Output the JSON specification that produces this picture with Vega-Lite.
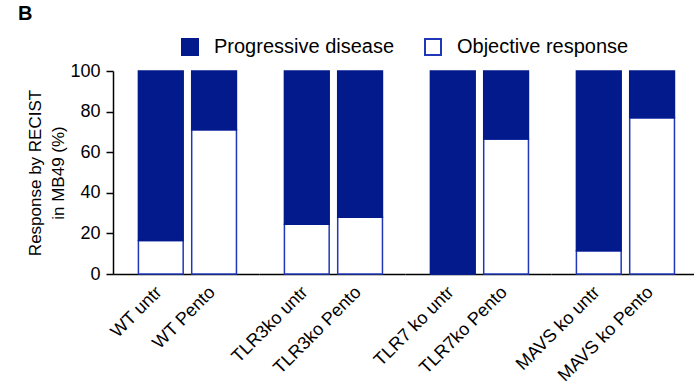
{
  "$schema": "https://vega.github.io/schema/vega-lite/v6.json",
  "background": "white",
  "padding": {"left": 17, "right": 0, "top": 4, "bottom": 0},
  "bounds": "flush",
  "title": {"text": "B", "anchor": "start", "frame": "bounds", "fontSize": 20, "fontWeight": "bold", "color": "black", "font": "Liberation Sans", "dx": -9, "offset": 13},
  "data": {"values": [
    {"group": "WT", "label": "WT untr", "response": "Objective response", "value": 16.5},
    {"group": "WT", "label": "WT untr", "response": "Progressive disease", "value": 83.5},
    {"group": "WT", "label": "WT Pento", "response": "Objective response", "value": 71},
    {"group": "WT", "label": "WT Pento", "response": "Progressive disease", "value": 29},
    {"group": "TLR3", "label": "TLR3ko untr", "response": "Objective response", "value": 24.5},
    {"group": "TLR3", "label": "TLR3ko untr", "response": "Progressive disease", "value": 75.5},
    {"group": "TLR3", "label": "TLR3ko Pento", "response": "Objective response", "value": 28},
    {"group": "TLR3", "label": "TLR3ko Pento", "response": "Progressive disease", "value": 72},
    {"group": "TLR7", "label": "TLR7 ko untr", "response": "Objective response", "value": 0},
    {"group": "TLR7", "label": "TLR7 ko untr", "response": "Progressive disease", "value": 100},
    {"group": "TLR7", "label": "TLR7ko Pento", "response": "Objective response", "value": 66.5},
    {"group": "TLR7", "label": "TLR7ko Pento", "response": "Progressive disease", "value": 33.5},
    {"group": "MAVS", "label": "MAVS ko untr", "response": "Objective response", "value": 11.5},
    {"group": "MAVS", "label": "MAVS ko untr", "response": "Progressive disease", "value": 88.5},
    {"group": "MAVS", "label": "MAVS ko Pento", "response": "Objective response", "value": 77},
    {"group": "MAVS", "label": "MAVS ko Pento", "response": "Progressive disease", "value": 23}
  ]},
  "spacing": 0,
  "resolve": {"scale": {"fill": "shared", "stroke": "shared", "y": "shared"}, "legend": {"fill": "shared", "stroke": "shared"}},
  "hconcat": [
    {
      "width": 146, "height": 203,
      "transform": [{"filter": "datum.group === 'WT'"}],
      "mark": {"type": "bar", "strokeWidth": 1.5},
      "encoding": {
        "x": {"field": "label", "type": "nominal", "sort": null, "scale": {"paddingInner": 0.16, "paddingOuter": 0.45, "align": 0.53}, "axis": {"title": null, "labelAngle": -45, "ticks": false, "labelFontSize": 18, "domainWidth": 1.5, "labelPadding": 9, "labelOffset": -8}},
        "y": {"field": "value", "type": "quantitative", "stack": "zero", "scale": {"domain": [0, 100]}, "axis": {"title": ["Response by RECIST", "in MB49 (%)"], "titleFontSize": 17, "titleFontWeight": "normal", "titleLineHeight": 23, "labelFontSize": 18, "values": [0, 20, 40, 60, 80, 100], "tickSize": 7, "tickWidth": 1.5, "domainWidth": 1.5, "labelPadding": 6, "titlePadding": 2}},
        "fill": {"field": "response", "type": "nominal", "scale": {"domain": ["Progressive disease", "Objective response"], "range": ["#021a8c", "#ffffff"]}, "legend": {"title": null}},
        "stroke": {"field": "response", "type": "nominal", "scale": {"domain": ["Progressive disease", "Objective response"], "range": ["#021a8c", "#2038b8"]}, "legend": {"title": null}},
        "order": {"field": "response", "sort": "ascending"}
      }
    },
    {
      "width": 146, "height": 203,
      "transform": [{"filter": "datum.group === 'TLR3'"}],
      "mark": {"type": "bar", "strokeWidth": 1.5},
      "encoding": {
        "x": {"field": "label", "type": "nominal", "sort": null, "scale": {"paddingInner": 0.16, "paddingOuter": 0.45, "align": 0.53}, "axis": {"title": null, "labelAngle": -45, "ticks": false, "labelFontSize": 18, "domainWidth": 1.5, "labelPadding": 9, "labelOffset": -8}},
        "y": {"field": "value", "type": "quantitative", "stack": "zero", "scale": {"domain": [0, 100]}, "axis": null},
        "fill": {"field": "response", "type": "nominal", "scale": {"domain": ["Progressive disease", "Objective response"], "range": ["#021a8c", "#ffffff"]}, "legend": {"title": null}},
        "stroke": {"field": "response", "type": "nominal", "scale": {"domain": ["Progressive disease", "Objective response"], "range": ["#021a8c", "#2038b8"]}, "legend": {"title": null}},
        "order": {"field": "response", "sort": "ascending"}
      }
    },
    {
      "width": 146, "height": 203,
      "transform": [{"filter": "datum.group === 'TLR7'"}],
      "mark": {"type": "bar", "strokeWidth": 1.5},
      "encoding": {
        "x": {"field": "label", "type": "nominal", "sort": null, "scale": {"paddingInner": 0.16, "paddingOuter": 0.45, "align": 0.53}, "axis": {"title": null, "labelAngle": -45, "ticks": false, "labelFontSize": 18, "domainWidth": 1.5, "labelPadding": 9, "labelOffset": -8}},
        "y": {"field": "value", "type": "quantitative", "stack": "zero", "scale": {"domain": [0, 100]}, "axis": null},
        "fill": {"field": "response", "type": "nominal", "scale": {"domain": ["Progressive disease", "Objective response"], "range": ["#021a8c", "#ffffff"]}, "legend": {"title": null}},
        "stroke": {"field": "response", "type": "nominal", "scale": {"domain": ["Progressive disease", "Objective response"], "range": ["#021a8c", "#2038b8"]}, "legend": {"title": null}},
        "order": {"field": "response", "sort": "ascending"}
      }
    },
    {
      "width": 146, "height": 203,
      "transform": [{"filter": "datum.group === 'MAVS'"}],
      "mark": {"type": "bar", "strokeWidth": 1.5},
      "encoding": {
        "x": {"field": "label", "type": "nominal", "sort": null, "scale": {"paddingInner": 0.16, "paddingOuter": 0.45, "align": 0.53}, "axis": {"title": null, "labelAngle": -45, "ticks": false, "labelFontSize": 18, "domainWidth": 1.5, "labelPadding": 9, "labelOffset": -8}},
        "y": {"field": "value", "type": "quantitative", "stack": "zero", "scale": {"domain": [0, 100]}, "axis": null},
        "fill": {"field": "response", "type": "nominal", "scale": {"domain": ["Progressive disease", "Objective response"], "range": ["#021a8c", "#ffffff"]}, "legend": {"title": null}},
        "stroke": {"field": "response", "type": "nominal", "scale": {"domain": ["Progressive disease", "Objective response"], "range": ["#021a8c", "#2038b8"]}, "legend": {"title": null}},
        "order": {"field": "response", "sort": "ascending"}
      }
    }
  ],
  "config": {
    "font": "Liberation Sans",
    "view": {"stroke": null},
    "axis": {"grid": false, "domainColor": "black", "tickColor": "black", "labelColor": "black", "titleColor": "black"},
    "legend": {"orient": "none", "legendX": 67, "legendY": -34, "direction": "horizontal", "symbolType": "square", "symbolSize": 256, "symbolStrokeWidth": 2, "labelFontSize": 20, "labelColor": "black", "labelOffset": 14, "labelLimit": 400, "columnPadding": 26}
  }
}
